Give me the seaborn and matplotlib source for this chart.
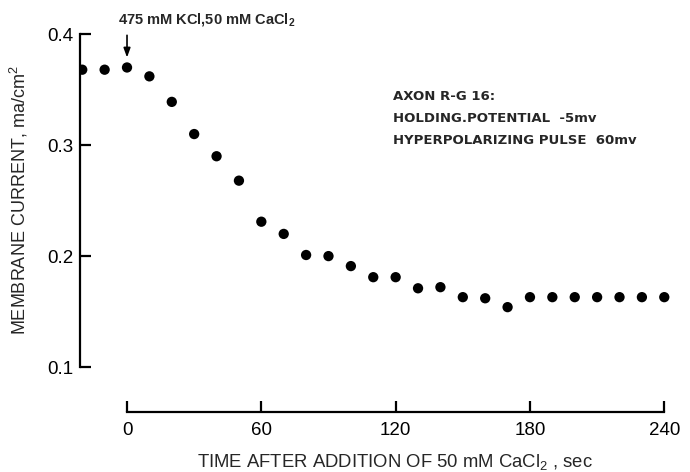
import matplotlib
matplotlib.use("Agg")
import matplotlib.pyplot as plt
import seaborn as sns
import pandas as pd

# Membrane current after switching to 475 mM KCl / 50 mM CaCl2
time_sec = [-20, -10, 0, 10, 20, 30, 40, 50, 60, 70, 80, 90, 100, 110, 120,
            130, 140, 150, 160, 170, 180, 190, 200, 210, 220, 230, 240]
current = [0.368, 0.368, 0.370, 0.362, 0.339, 0.310, 0.290, 0.268, 0.231, 0.220,
           0.201, 0.200, 0.191, 0.181, 0.181, 0.171, 0.172, 0.163, 0.162, 0.154,
           0.163, 0.163, 0.163, 0.163, 0.163, 0.163, 0.163]
x_ticks = [0, 60, 120, 180, 240]
y_ticks = [0.1, 0.2, 0.3, 0.4]
y_tick_labels = ["0.1", "0.2", "0.3", "0.4"]
info_lines = ["AXON R-G 16:", "HOLDING.POTENTIAL  -5mv", "HYPERPOLARIZING PULSE  60mv"]

df = pd.DataFrame({"time": time_sec, "current": current})

sns.set_style("ticks")
plt.rcParams["font.family"] = ["Liberation Sans", "DejaVu Sans"]
plt.rcParams["mathtext.default"] = "regular"

W, H = 690, 472
fig = plt.figure(figsize=(W / 100, H / 100), dpi=100)
ax = fig.add_axes([80 / W, 1 - 412 / H, (686 - 80) / W, (412 - 12) / H])

sns.scatterplot(data=df, x="time", y="current", ax=ax, color="black",
                s=55, edgecolor="none", legend=False)

ax.set_xlim(-21, 249.7)
ax.set_ylim(0.0595, 0.42)

for side in ("top", "right"):
    ax.spines[side].set_visible(False)
ax.spines["left"].set_bounds(0.1, 0.4)
ax.spines["bottom"].set_bounds(0, 240)
for side in ("left", "bottom"):
    ax.spines[side].set_linewidth(1.6)
    ax.spines[side].set_color("black")

ax.set_xticks(x_ticks)
ax.set_xticklabels([str(t) for t in x_ticks])
ax.set_yticks(y_ticks)
ax.set_yticklabels(y_tick_labels)
ax.tick_params(axis="both", which="major", direction="in", length=8, width=1.6,
               colors="black", labelsize=13.5, bottom=True, left=True)
ax.tick_params(axis="y", pad=5)
ax.tick_params(axis="x", pad=7)

ax.set_xlabel("TIME AFTER ADDITION OF 50 mM CaCl$_2$ , sec", fontsize=13.3)
ax.set_ylabel("MEMBRANE CURRENT, ma/cm$^2$", fontsize=13)
ax.xaxis.set_label_coords(0.52, -0.1)
ax.yaxis.set_label_coords(-0.083, 0.53)

# arrow marking the moment the solution was changed
ax.annotate("", xy=(0, 0.379), xytext=(0, 0.399),
            arrowprops=dict(arrowstyle="-|>,head_length=0.55,head_width=0.2",
                            color="black", lw=1.2, shrinkA=0, shrinkB=0))
fig.text(207 / W, 1 - 20 / H, "475 mM KCl,50 mM CaCl$_2$", ha="center", va="center",
         fontsize=10.5, fontweight="bold")

for i, line in enumerate(info_lines):
    fig.text(393 / W, 1 - (97 + 21.5 * i) / H, line, ha="left", va="center",
             fontsize=9.5, fontweight="bold", family=["DejaVu Sans"])

fig.savefig("out.png", dpi=100)
